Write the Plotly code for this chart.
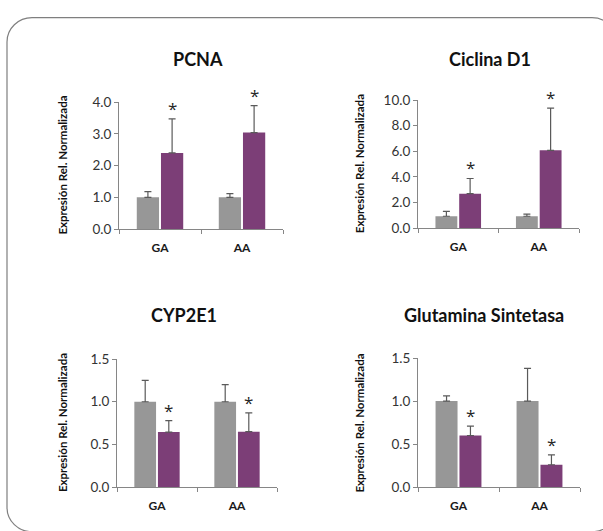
import plotly.graph_objects as go

W, H = 603, 531

categories = ["GA", "AA"]
titles = ["PCNA", "Ciclina D1", "CYP2E1", "Glutamina Sintetasa"]
y_title = "Expresión Rel. Normalizada"

pcna_gray = [1.00, 1.00]
pcna_gray_err = [0.18, 0.12]
pcna_purple = [2.40, 3.04]
pcna_purple_err = [1.07, 0.85]

ciclina_gray = [0.93, 0.93]
ciclina_gray_err = [0.38, 0.16]
ciclina_purple = [2.69, 6.08]
ciclina_purple_err = [1.19, 3.29]

cyp_gray = [1.00, 1.00]
cyp_gray_err = [0.25, 0.20]
cyp_purple = [0.645, 0.65]
cyp_purple_err = [0.135, 0.22]

glut_gray = [1.00, 1.00]
glut_gray_err = [0.06, 0.38]
glut_purple = [0.60, 0.26]
glut_purple_err = [0.11, 0.115]

y_ranges = [[0, 4], [0, 10], [0, 1.5], [0, 1.5]]
y_dticks = [1, 2, 0.5, 0.5]
stars = [["*", "*"], ["*", "*"], ["*", "*"], ["*", "*"]]

panels = [
    (pcna_gray, pcna_gray_err, pcna_purple, pcna_purple_err),
    (ciclina_gray, ciclina_gray_err, ciclina_purple, ciclina_purple_err),
    (cyp_gray, cyp_gray_err, cyp_purple, cyp_purple_err),
    (glut_gray, glut_gray_err, glut_purple, glut_purple_err),
]

# layout (pixels)
x_dom_px = [(119, 283), (418, 579), (117, 277), (418, 580)]
y_dom_px = [(97, 228), (95, 227), (362, 494), (361, 494)]
title_pos_px = [(198, 53), (490, 53), (184, 317), (484, 317)]
ytitle_x_px = [63, 359, 62, 360]

GRAY = "#979797"
PURPLE = "#7c3e77"
ERR = "#5a5a5a"
AXIS = "#868686"
FONT = "Lato"
BARGAP = 0.41
GROUPGAP = 0.08

fig = go.Figure()
annotations = []

for i, (g, ge, p, pe) in enumerate(panels):
    n = "" if i == 0 else str(i + 1)
    xa, ya = "x" + n, "y" + n
    fig.add_trace(go.Bar(
        x=categories, y=g, xaxis=xa, yaxis=ya, marker_color=GRAY,
        marker_line_width=0, showlegend=False,
        error_y=dict(type="data", symmetric=False, array=ge,
                     arrayminus=[0] * len(ge), color=ERR, thickness=1.2, width=3.5),
    ))
    fig.add_trace(go.Bar(
        x=categories, y=p, xaxis=xa, yaxis=ya, marker_color=PURPLE,
        marker_line_width=0, showlegend=False,
        error_y=dict(type="data", symmetric=False, array=pe,
                     arrayminus=[0] * len(pe), color=ERR, thickness=1.2, width=3.5),
    ))
    x0, x1 = x_dom_px[i]
    y0, y1 = y_dom_px[i]
    fig.update_layout(**{
        ("xaxis" + n): dict(
            domain=[x0 / W, x1 / W], anchor=ya, type="category",
            range=[-0.5, len(categories) - 0.5],
            showline=True, linecolor=AXIS, linewidth=1,
            ticks="outside", tickson="boundaries", ticklen=4, tickcolor=AXIS,
            tickfont=dict(family=FONT, size=12, color="#1a1a1a", weight="bold"),
            ticklabelstandoff=7, showgrid=False, zeroline=False,
        ),
        ("yaxis" + n): dict(
            domain=[1 - y1 / H, 1 - y0 / H], anchor=xa,
            range=y_ranges[i], dtick=y_dticks[i], tick0=0, tickformat=".1f",
            showline=True, linecolor=AXIS, linewidth=1,
            ticks="outside", ticklen=4, tickcolor=AXIS,
            tickfont=dict(family=FONT, size=13.5, color="#333333"),
            showgrid=False, zeroline=False,
        ),
    })
    tx, ty = title_pos_px[i]
    annotations.append(dict(
        text=titles[i], xref="paper", yref="paper", x=tx / W, y=1 - ty / H,
        xanchor="center", yanchor="middle", showarrow=False,
        font=dict(family=FONT, size=18, color="#111111", weight="bold"),
    ))
    annotations.append(dict(
        text=y_title, xref="paper", yref="paper", x=ytitle_x_px[i] / W,
        y=1 - (y0 + y1) / 2 / H, textangle=-90,
        xanchor="center", yanchor="middle", showarrow=False,
        font=dict(family=FONT, size=11.5, color="#111111", weight="bold"),
    ))
    off = (1 - BARGAP) / 4
    for j in range(len(categories)):
        annotations.append(dict(
            text=stars[i][j], xref=xa, yref=ya, x=j + off, y=p[j] + pe[j],
            xanchor="center", yanchor="bottom", yshift=-3, showarrow=False,
            font=dict(family="Open Sans", size=17, color="#262626"),
        ))

# rounded frame
L, T, R, B, r = 7, 10, 617, 540, 25
def px(x):
    return x / W
def py(y):
    return 1 - y / H
k = 0.5523 * r
path = (
    f"M {px(L + r)},{py(T)} L {px(R - r)},{py(T)} "
    f"C {px(R - r + k)},{py(T)} {px(R)},{py(T + r - k)} {px(R)},{py(T + r)} "
    f"L {px(R)},{py(B - r)} "
    f"C {px(R)},{py(B - r + k)} {px(R - r + k)},{py(B)} {px(R - r)},{py(B)} "
    f"L {px(L + r)},{py(B)} "
    f"C {px(L + r - k)},{py(B)} {px(L)},{py(B - r + k)} {px(L)},{py(B - r)} "
    f"L {px(L)},{py(T + r)} "
    f"C {px(L)},{py(T + r - k)} {px(L + r - k)},{py(T)} {px(L + r)},{py(T)} Z"
)

fig.update_layout(
    width=W, height=H, margin=dict(l=0, r=0, t=0, b=0, pad=0),
    paper_bgcolor="white", plot_bgcolor="white",
    barmode="group", bargap=BARGAP, bargroupgap=GROUPGAP,
    annotations=annotations,
    shapes=[dict(type="path", path=path, xref="paper", yref="paper",
                 line=dict(color="#7f7f7f", width=1.2), layer="below")],
    font=dict(family=FONT),
)

fig.write_html("out.html", config={"displayModeBar": False})
